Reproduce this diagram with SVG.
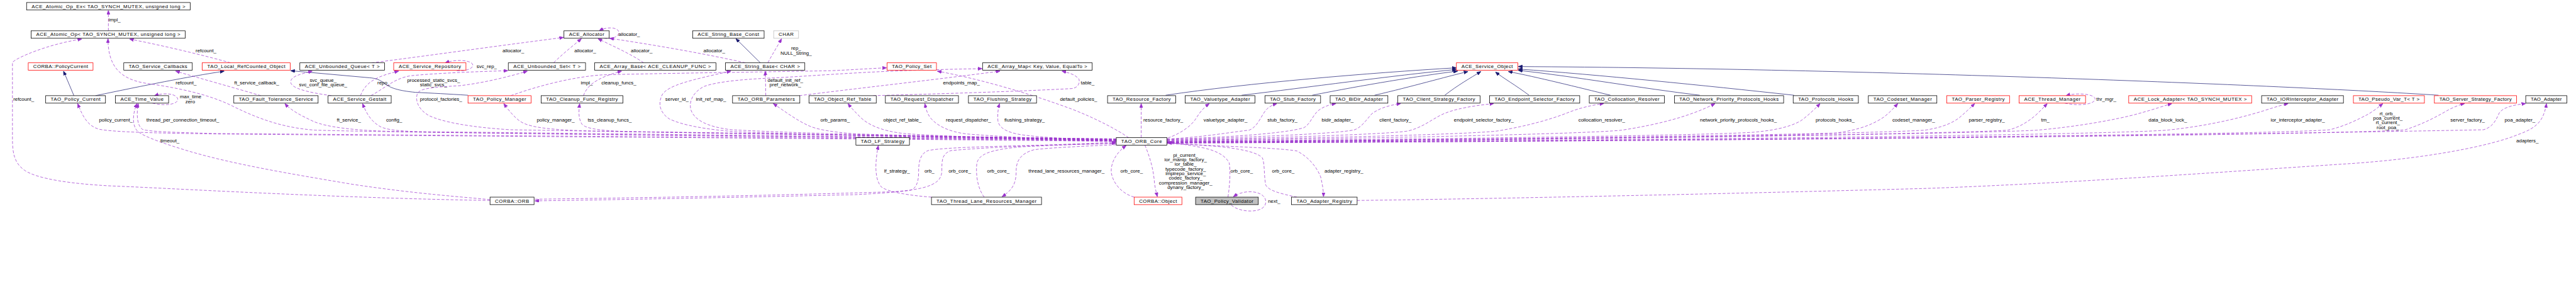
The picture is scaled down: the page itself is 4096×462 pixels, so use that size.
<svg xmlns="http://www.w3.org/2000/svg" width="4096" height="462" viewBox="0 0 4096 462">
<style>
.nb{fill:#fff;stroke:#000;stroke-width:1.2}
.nr{fill:#fff;stroke:#ff0000;stroke-width:1.2}
.ng{fill:#fff;stroke:#bfbfbf;stroke-width:1.2}
.nf{fill:#bfbfbf;stroke:#000;stroke-width:1.2}
.t{font-family:"Liberation Sans",Arial,sans-serif;font-size:12px;fill:#000;text-anchor:middle}
.e{fill:none;stroke:#9a32cd;stroke-width:1.1;stroke-dasharray:7,4;marker-end:url(#ap)}
.i{fill:none;stroke:#191970;stroke-width:1.1;marker-end:url(#an)}
</style>
<defs>
<marker id="ap" viewBox="0 0 10 8" refX="10" refY="4" markerWidth="10" markerHeight="8" orient="auto" markerUnits="userSpaceOnUse"><path d="M0,0 L10,4 L0,8 z" fill="#9a32cd" stroke="#9a32cd"/></marker>
<marker id="an" viewBox="0 0 10 8" refX="10" refY="4" markerWidth="10" markerHeight="8" orient="auto" markerUnits="userSpaceOnUse"><path d="M0,0 L10,4 L0,8 z" fill="#191970" stroke="#191970"/></marker>
</defs>
<rect width="4096" height="462" fill="#fff"/>
<g transform="scale(0.66032)">
<g id="connectors">
<!-- inheritance -->
<path class="i" d="M178,230 L153,171"/>
<path class="i" d="M230,230 C350,205 450,185 540,171"/>
<path class="i" d="M1127,229 C1080,226 1040,224 1000,222 C960,218 940,212 925,200 C915,192 905,188 890,187 L700,170"/>
<path class="i" d="M1831,151 L1772,93"/>
<path class="i" d="M2807,229 C3000,200 3300,175 3507,163"/>
<path class="i" d="M2990,229 C3150,210 3350,182 3507,167"/>
<path class="i" d="M3160,229 C3280,205 3420,182 3510,171"/>
<path class="i" d="M3310,229 C3400,208 3480,185 3535,172"/>
<path class="i" d="M3479,229 C3510,205 3540,188 3566,172"/>
<path class="i" d="M3682,229 C3650,205 3620,188 3601,173"/>
<path class="i" d="M3878,229 C3800,210 3700,185 3632,172"/>
<path class="i" d="M4093,229 C3950,212 3800,185 3656,169"/>
<path class="i" d="M4320,229 C4100,205 3850,180 3656,166"/>
<path class="i" d="M5872,229 C5500,205 4500,165 3656,160"/>
<!-- dashed usage, top area -->
<path class="e" d="M261,74 L261,25"/>
<path class="e" d="M555,151 C480,130 380,107 312,94"/>
<path class="e" d="M628,230 C560,210 480,188 423,171"/>
<path class="e" d="M367,248 C400,256 430,250 428,238 C425,225 395,222 372,230"/>
<path class="e" d="M798,230 C740,222 700,212 700,197 C700,182 730,177 752,171"/>
<path class="e" d="M868,230 C880,200 900,185 960,171"/>
<path class="e" d="M893,230 C930,210 950,188 990,182 C1050,176 1150,172 1223,170"/>
<path class="e" d="M895,151 C1000,138 1200,110 1357,90"/>
<path class="e" d="M1333,151 C1360,125 1380,110 1400,93"/>
<path class="e" d="M1550,151 C1520,130 1470,108 1440,93"/>
<path class="e" d="M1795,151 C1700,130 1600,112 1468,92"/>
<path class="e" d="M1455,92 C1480,95 1492,85 1490,76 C1486,65 1460,64 1443,74"/>
<path class="e" d="M1100,170 C1130,172 1145,160 1136,152 C1126,144 1095,143 1072,151"/>
<path class="e" d="M1230,230 C1300,205 1380,185 1450,180 C1600,176 1900,172 2000,170 C2050,168 2090,165 2135,163"/>
<path class="e" d="M1405,230 C1412,210 1430,188 1497,171"/>
<path class="e" d="M1844,230 L1843,171"/>
<path class="e" d="M1849,151 C1860,130 1870,115 1882,93"/>
<path class="e" d="M2103,230 C2250,226 2450,220 2580,213 C2600,211 2600,195 2598,190 C2590,180 2575,175 2557,171"/>
<path class="e" d="M1925,230 C2050,214 2250,192 2408,171"/>
<path class="e" d="M2718,331 C2690,312 2640,285 2580,262 C2480,225 2360,190 2257,171"/>
<path class="e" d="M4972,248 C5010,256 5045,250 5045,238 C5045,226 5000,222 4975,230"/>
<!-- ORB_Core to the left -->
<path class="e" d="M2688,340 C2200,334 900,326 520,322 C380,320 280,318 240,311 C212,304 200,282 187,249"/>
<path class="e" d="M2688,339 C2200,333 900,324 513,321 C420,318 360,317 343,311 C330,302 328,275 333,249"/>
<path class="e" d="M2688,338 C2200,332 1000,320 760,313 C690,308 630,290 560,255 C500,225 420,210 350,200 C290,190 260,160 260,93"/>
<path class="e" d="M2688,337 C2200,331 1100,320 950,316 C850,314 785,305 755,292 C725,278 700,265 686,249"/>
<path class="e" d="M2688,336 C2200,330 1200,318 1035,317 C960,316 930,312 915,304 C898,294 885,280 873,249"/>
<path class="e" d="M2688,335 C2200,328 1450,316 1230,312 C1130,306 1065,293 1033,278 C1005,262 1000,240 1005,225 C1012,212 1040,210 1107,206 C1160,200 1220,186 1270,171"/>
<path class="e" d="M2688,334 C2200,328 1600,318 1430,315 C1300,312 1268,303 1250,290 C1235,278 1225,265 1213,249"/>
<path class="e" d="M2688,334 C2200,328 1700,318 1550,317 C1450,316 1410,310 1401,298 C1393,285 1393,270 1396,249"/>
<path class="e" d="M2688,337 C2300,331 2000,325 1778,317 C1700,312 1640,300 1612,286 C1590,272 1583,250 1595,227 C1610,205 1660,193 1760,171"/>
<path class="e" d="M2688,336 C2300,330 1950,322 1762,312 C1700,305 1672,287 1664,265 C1658,245 1668,222 1695,208 C1730,195 1800,190 1870,187 C1960,182 2050,175 2150,171 C2250,167 2320,166 2365,165"/>
<path class="e" d="M2688,335 C2400,330 2150,325 2065,322 C2000,318 1962,310 1945,301 C1920,290 1890,268 1862,249"/>
<path class="e" d="M2688,340 C2500,336 2250,327 2177,321 C2120,315 2088,298 2072,282 C2060,270 2050,260 2042,249"/>
<path class="e" d="M2688,339 C2550,336 2400,328 2327,322 C2280,316 2255,300 2242,285 C2232,273 2230,262 2227,249"/>
<path class="e" d="M2688,338 C2600,336 2500,330 2460,324 C2420,318 2405,305 2403,290 C2402,275 2403,262 2407,249"/>
<path class="e" d="M2748,331 L2748,249"/>
<path class="e" d="M2812,332 C2850,318 2870,300 2880,285 C2890,268 2900,258 2912,249"/>
<!-- ORB_Core to the right -->
<path class="e" d="M2810,334 C2900,330 2960,318 3008,313 C3028,305 3035,282 3048,265 C3056,256 3065,252 3075,249"/>
<path class="e" d="M2810,335 C2950,330 3090,322 3140,307 C3155,298 3160,280 3173,267 C3185,257 3200,252 3217,249"/>
<path class="e" d="M2810,336 C3000,330 3220,322 3262,312 C3280,305 3290,288 3303,274 C3318,262 3340,254 3373,249"/>
<path class="e" d="M2810,337 C3100,331 3350,322 3390,315 C3420,308 3440,293 3460,282 C3485,266 3530,256 3597,249"/>
<path class="e" d="M2810,338 C3200,332 3550,322 3605,315 C3680,303 3740,285 3775,271 C3800,261 3830,253 3862,249"/>
<path class="e" d="M2810,339 C3300,333 3820,322 3905,313 C3990,300 4070,280 4130,249"/>
<path class="e" d="M2810,340 C3400,335 4100,326 4222,318 C4290,312 4320,300 4337,290 C4355,277 4370,262 4383,249"/>
<path class="e" d="M2810,341 C3500,336 4300,328 4420,320 C4480,312 4512,298 4537,281 C4550,271 4560,260 4570,249"/>
<path class="e" d="M2810,341 C3600,336 4500,322 4635,313 C4680,306 4702,295 4718,283 C4732,271 4745,259 4755,249"/>
<path class="e" d="M2810,342 C3700,337 4700,322 4835,313 C4862,306 4882,294 4902,277 C4913,267 4922,257 4930,249"/>
<path class="e" d="M2810,342 C3800,337 4800,320 4905,313 C5000,305 5100,287 5150,273 C5190,262 5212,254 5230,249"/>
<path class="e" d="M2810,343 C3900,338 5050,325 5217,313 C5330,302 5420,276 5452,266 C5480,257 5497,252 5510,249"/>
<path class="e" d="M2810,343 C4000,338 5450,325 5610,312 C5650,302 5680,286 5698,277 C5715,268 5728,257 5738,249"/>
<path class="e" d="M2810,344 C4100,339 5650,325 5792,312 C5840,296 5870,279 5898,263 C5913,256 5924,251 5935,249"/>
<path class="e" d="M2810,344 C4200,340 5600,320 5980,312 C6002,306 6010,290 6018,272 C6026,260 6045,253 6082,249"/>
<!-- bottom area -->
<path class="e" d="M3268,482 C3600,478 4200,465 4640,453 C5000,440 5400,410 5665,393 C5850,380 6000,350 6065,323 C6110,307 6125,290 6132,249"/>
<path class="e" d="M2810,345 C2900,350 3080,355 3123,363 C3150,377 3170,400 3180,425 C3185,445 3187,460 3187,473"/>
<path class="e" d="M3123,474 C3080,465 3055,458 3048,445 C3043,420 3046,395 3040,380 C3030,368 3000,360 2942,353 C2880,348 2840,345 2811,343"/>
<path class="e" d="M2957,474 C2962,440 2963,410 2960,392 C2952,375 2930,362 2895,355 C2860,348 2835,345 2811,342"/>
<path class="e" d="M2965,493 C2985,512 3048,515 3048,485 C3048,460 3000,452 2970,473"/>
<path class="e" d="M2757,349 C2770,380 2778,410 2780,440 C2782,455 2785,465 2787,473"/>
<path class="e" d="M2731,474 C2700,465 2680,440 2676,415 C2674,390 2690,365 2712,350"/>
<path class="e" d="M2370,474 C2352,450 2350,415 2352,395 C2355,372 2380,360 2460,353 C2560,348 2640,346 2687,344"/>
<path class="e" d="M2688,348 C2600,352 2530,355 2490,360 C2460,368 2447,385 2447,410 C2447,440 2440,455 2413,473"/>
<path class="e" d="M2243,474 C2190,470 2140,462 2123,450 C2108,435 2105,400 2115,350"/>
<path class="e" d="M2688,345 C2500,350 2280,352 2235,362 C2215,370 2212,390 2212,415 C2212,440 2205,455 2190,458 C2150,463 2100,466 2060,468 C1800,474 1500,480 1288,483"/>
<path class="e" d="M1288,479 C1600,475 1900,469 2150,461 C2240,455 2268,440 2268,410 C2268,385 2268,370 2290,362 C2400,352 2600,346 2687,342"/>
<path class="e" d="M1180,482 C800,476 400,452 267,447 C170,442 90,430 60,410 C35,393 30,370 30,333 L30,150 C40,138 120,105 197,94"/>
<path class="e" d="M1180,480 C1120,474 1000,466 848,443 C700,418 560,395 450,362 C400,347 350,330 333,317 C318,305 318,275 330,249"/>
</g>
<g id="edge-labels" class="t">
<text x="276" y="52">impl_</text>
<text x="496" y="125">refcount_</text>
<text x="448" y="203">refcount_</text>
<text x="57" y="242">refcount_</text>
<text x="459" y="237">max_time</text>
<text x="458" y="248">zero</text>
<text x="279" y="293">policy_current_</text>
<text x="440" y="293">thread_per_connection_timeout_</text>
<text x="409" y="343">timeout_</text>
<text x="618" y="203">ft_service_callback_</text>
<text x="778" y="197">svc_queue_</text>
<text x="778" y="208">svc_conf_file_queue_</text>
<text x="924" y="203">repo_</text>
<text x="1044" y="197">processed_static_svcs_</text>
<text x="1044" y="208">static_svcs_</text>
<text x="1062" y="242">protocol_factories_</text>
<text x="840" y="293">ft_service_</text>
<text x="949" y="293">config_</text>
<text x="1236" y="125">allocator_</text>
<text x="1409" y="125">allocator_</text>
<text x="1545" y="125">allocator_</text>
<text x="1720" y="125">allocator_</text>
<text x="1515" y="86">allocator_</text>
<text x="1172" y="164">svc_rep_</text>
<text x="1413" y="203">impl_</text>
<text x="1490" y="203">cleanup_funcs_</text>
<text x="1338" y="293">policy_manager_</text>
<text x="1468" y="293">tss_cleanup_funcs_</text>
<text x="1917" y="120">rep_</text>
<text x="1917" y="131">NULL_String_</text>
<text x="1891" y="197">default_init_ref_</text>
<text x="1891" y="208">pref_network_</text>
<text x="1630" y="242">server_id_</text>
<text x="1712" y="242">init_ref_map_</text>
<text x="2011" y="293">orb_params_</text>
<text x="2315" y="203">endpoints_map_</text>
<text x="2619" y="203">table_</text>
<text x="2597" y="242">default_policies_</text>
<text x="2173" y="293">object_ref_table_</text>
<text x="2332" y="293">request_dispatcher_</text>
<text x="2467" y="293">flushing_strategy_</text>
<text x="2801" y="293">resource_factory_</text>
<text x="2951" y="293">valuetype_adapter_</text>
<text x="3088" y="293">stub_factory_</text>
<text x="3221" y="293">bidir_adapter_</text>
<text x="3360" y="293">client_factory_</text>
<text x="3573" y="293">endpoint_selector_factory_</text>
<text x="3857" y="293">collocation_resolver_</text>
<text x="4186" y="293">network_priority_protocols_hooks_</text>
<text x="4419" y="293">protocols_hooks_</text>
<text x="4608" y="293">codeset_manager_</text>
<text x="4784" y="293">parser_registry_</text>
<text x="4925" y="293">tm_</text>
<text x="5072" y="242">thr_mgr_</text>
<text x="5220" y="293">data_block_lock_</text>
<text x="5533" y="293">ior_interceptor_adapter_</text>
<text x="5749" y="277">rt_orb_</text>
<text x="5750" y="288">poa_current_</text>
<text x="5750" y="299">rt_current_</text>
<text x="5750" y="310">root_poa_</text>
<text x="5942" y="293">server_factory_</text>
<text x="6068" y="293">poa_adapter_</text>
<text x="6086" y="343">adapters_</text>
<text x="2160" y="415">lf_strategy_</text>
<text x="2238" y="415">orb_</text>
<text x="2311" y="415">orb_core_</text>
<text x="2404" y="415">orb_core_</text>
<text x="2568" y="415">thread_lane_resources_manager_</text>
<text x="2725" y="415">orb_core_</text>
<text x="2855" y="377">pi_current_</text>
<text x="2855" y="388">ior_manip_factory_</text>
<text x="2855" y="399">ior_table_</text>
<text x="2855" y="410">typecode_factory_</text>
<text x="2855" y="421">implrepo_service_</text>
<text x="2855" y="431">codec_factory_</text>
<text x="2855" y="443">compression_manager_</text>
<text x="2855" y="454">dynany_factory_</text>
<text x="2990" y="415">orb_core_</text>
<text x="3090" y="415">orb_core_</text>
<text x="3236" y="415">adapter_registry_</text>
<text x="3068" y="487">next_</text>
</g>
<g id="n_atomic_op_ex"><rect class="nb" x="64" y="6" width="394" height="18"/><text class="t" x="261" y="19" textLength="370">ACE_Atomic_Op_Ex&lt; TAO_SYNCH_MUTEX, unsigned long &gt;</text></g>
<g id="n_atomic_op"><rect class="nb" x="75" y="74" width="371" height="18"/><text class="t" x="260.5" y="87" textLength="347">ACE_Atomic_Op&lt; TAO_SYNCH_MUTEX, unsigned long &gt;</text></g>
<g id="n_allocator"><rect class="nb" x="1358" y="74" width="109" height="18"/><text class="t" x="1412.5" y="87" textLength="85">ACE_Allocator</text></g>
<g id="n_string_base_const"><rect class="nb" x="1668" y="74" width="172" height="18"/><text class="t" x="1754" y="87" textLength="148">ACE_String_Base_Const</text></g>
<g id="n_char"><rect class="ng" x="1863" y="74" width="60" height="18"/><text class="t" x="1893" y="87" textLength="36">CHAR</text></g>
<g id="n_policycurrent"><rect class="nr" x="68" y="151" width="156" height="18"/><text class="t" x="146" y="164" textLength="132">CORBA::PolicyCurrent</text></g>
<g id="n_service_callbacks"><rect class="nb" x="298" y="151" width="165" height="18"/><text class="t" x="380.5" y="164" textLength="141">TAO_Service_Callbacks</text></g>
<g id="n_local_refcounted"><rect class="nr" x="487" y="151" width="212" height="18"/><text class="t" x="593" y="164" textLength="188">TAO_Local_RefCounted_Object</text></g>
<g id="n_unbounded_queue"><rect class="nb" x="722" y="151" width="204" height="18"/><text class="t" x="824" y="164" textLength="180">ACE_Unbounded_Queue&lt; T &gt;</text></g>
<g id="n_service_repository"><rect class="nr" x="948" y="151" width="174" height="18"/><text class="t" x="1035" y="164" textLength="150">ACE_Service_Repository</text></g>
<g id="n_unbounded_set"><rect class="nb" x="1224" y="151" width="186" height="18"/><text class="t" x="1317" y="164" textLength="162">ACE_Unbounded_Set&lt; T &gt;</text></g>
<g id="n_array_base"><rect class="nb" x="1432" y="151" width="292" height="18"/><text class="t" x="1578" y="164" textLength="268">ACE_Array_Base&lt; ACE_CLEANUP_FUNC &gt;</text></g>
<g id="n_string_base"><rect class="nb" x="1747" y="151" width="191" height="18"/><text class="t" x="1842.5" y="164" textLength="167">ACE_String_Base&lt; CHAR &gt;</text></g>
<g id="n_policy_set"><rect class="nr" x="2136" y="151" width="119" height="18"/><text class="t" x="2195.5" y="164" textLength="95">TAO_Policy_Set</text></g>
<g id="n_array_map"><rect class="nb" x="2366" y="151" width="264" height="18"/><text class="t" x="2498" y="164" textLength="240">ACE_Array_Map&lt; Key, Value, EqualTo &gt;</text></g>
<g id="n_service_object"><rect class="nr" x="3507" y="151" width="148" height="18"/><text class="t" x="3581" y="164" textLength="124">ACE_Service_Object</text></g>
<g id="n_policy_current"><rect class="nb" x="110" y="230" width="144" height="18"/><text class="t" x="182" y="243" textLength="120">TAO_Policy_Current</text></g>
<g id="n_time_value"><rect class="nb" x="278" y="230" width="128" height="18"/><text class="t" x="342" y="243" textLength="104">ACE_Time_Value</text></g>
<g id="n_ft_service"><rect class="nb" x="563" y="230" width="203" height="18"/><text class="t" x="664.5" y="243" textLength="179">TAO_Fault_Tolerance_Service</text></g>
<g id="n_gestalt"><rect class="nb" x="790" y="230" width="152" height="18"/><text class="t" x="866" y="243" textLength="128">ACE_Service_Gestalt</text></g>
<g id="n_policy_manager"><rect class="nr" x="1127" y="230" width="152" height="18"/><text class="t" x="1203" y="243" textLength="128">TAO_Policy_Manager</text></g>
<g id="n_cleanup"><rect class="nb" x="1303" y="230" width="197" height="18"/><text class="t" x="1401.5" y="243" textLength="173">TAO_Cleanup_Func_Registry</text></g>
<g id="n_orb_params"><rect class="nb" x="1764" y="230" width="162" height="18"/><text class="t" x="1845" y="243" textLength="138">TAO_ORB_Parameters</text></g>
<g id="n_object_ref_table"><rect class="nb" x="1948" y="230" width="162" height="18"/><text class="t" x="2029" y="243" textLength="138">TAO_Object_Ref_Table</text></g>
<g id="n_request_dispatcher"><rect class="nb" x="2132" y="230" width="176" height="18"/><text class="t" x="2220" y="243" textLength="152">TAO_Request_Dispatcher</text></g>
<g id="n_flushing"><rect class="nb" x="2332" y="230" width="164" height="18"/><text class="t" x="2414" y="243" textLength="140">TAO_Flushing_Strategy</text></g>
<g id="n_resource_factory"><rect class="nb" x="2667" y="230" width="164" height="18"/><text class="t" x="2749" y="243" textLength="140">TAO_Resource_Factory</text></g>
<g id="n_valuetype"><rect class="nb" x="2854" y="230" width="168" height="18"/><text class="t" x="2938" y="243" textLength="144">TAO_Valuetype_Adapter</text></g>
<g id="n_stub_factory"><rect class="nb" x="3046" y="230" width="134" height="18"/><text class="t" x="3113" y="243" textLength="110">TAO_Stub_Factory</text></g>
<g id="n_bidir"><rect class="nb" x="3203" y="230" width="139" height="18"/><text class="t" x="3272.5" y="243" textLength="115">TAO_BiDir_Adapter</text></g>
<g id="n_client_strategy"><rect class="nb" x="3366" y="230" width="198" height="18"/><text class="t" x="3465" y="243" textLength="174">TAO_Client_Strategy_Factory</text></g>
<g id="n_endpoint_selector"><rect class="nb" x="3587" y="230" width="217" height="18"/><text class="t" x="3695.5" y="243" textLength="193">TAO_Endpoint_Selector_Factory</text></g>
<g id="n_collocation"><rect class="nb" x="3827" y="230" width="181" height="18"/><text class="t" x="3917.5" y="243" textLength="157">TAO_Collocation_Resolver</text></g>
<g id="n_net_prio"><rect class="nb" x="4032" y="230" width="263" height="18"/><text class="t" x="4163.5" y="243" textLength="239">TAO_Network_Priority_Protocols_Hooks</text></g>
<g id="n_protocols_hooks"><rect class="nb" x="4318" y="230" width="157" height="18"/><text class="t" x="4396.5" y="243" textLength="133">TAO_Protocols_Hooks</text></g>
<g id="n_codeset"><rect class="nb" x="4499" y="230" width="165" height="18"/><text class="t" x="4581.5" y="243" textLength="141">TAO_Codeset_Manager</text></g>
<g id="n_parser"><rect class="nr" x="4688" y="230" width="151" height="18"/><text class="t" x="4763.5" y="243" textLength="127">TAO_Parser_Registry</text></g>
<g id="n_thread_manager"><rect class="nr" x="4862" y="230" width="160" height="18"/><text class="t" x="4942" y="243" textLength="136">ACE_Thread_Manager</text></g>
<g id="n_lock_adapter"><rect class="nr" x="5126" y="230" width="296" height="18"/><text class="t" x="5274" y="243" textLength="272">ACE_Lock_Adapter&lt; TAO_SYNCH_MUTEX &gt;</text></g>
<g id="n_ior"><rect class="nb" x="5446" y="230" width="197" height="18"/><text class="t" x="5544.5" y="243" textLength="173">TAO_IORInterceptor_Adapter</text></g>
<g id="n_pseudo_var"><rect class="nr" x="5667" y="230" width="171" height="18"/><text class="t" x="5752.5" y="243" textLength="147">TAO_Pseudo_Var_T&lt; T &gt;</text></g>
<g id="n_server_strategy"><rect class="nr" x="5862" y="230" width="198" height="18"/><text class="t" x="5961" y="243" textLength="174">TAO_Server_Strategy_Factory</text></g>
<g id="n_adapter"><rect class="nb" x="6082" y="230" width="99" height="18"/><text class="t" x="6131.5" y="243" textLength="75">TAO_Adapter</text></g>
<g id="n_lf_strategy"><rect class="nb" x="2061" y="331" width="129" height="18"/><text class="t" x="2125.5" y="344" textLength="105">TAO_LF_Strategy</text></g>
<g id="n_orb_core"><rect class="nb" x="2688" y="331" width="122" height="18"/><text class="t" x="2749" y="344" textLength="98">TAO_ORB_Core</text></g>
<g id="n_corba_orb"><rect class="nb" x="1180" y="474" width="106" height="18"/><text class="t" x="1233" y="487" textLength="82">CORBA::ORB</text></g>
<g id="n_tlrm"><rect class="nb" x="2243" y="474" width="265" height="18"/><text class="t" x="2375.5" y="487" textLength="241">TAO_Thread_Lane_Resources_Manager</text></g>
<g id="n_corba_object"><rect class="nr" x="2731" y="474" width="115" height="18"/><text class="t" x="2788.5" y="487" textLength="91">CORBA::Object</text></g>
<g id="n_policy_validator"><rect class="nf" x="2879" y="474" width="151" height="18"/><text class="t" x="2954.5" y="487" textLength="127">TAO_Policy_Validator</text></g>
<g id="n_adapter_registry"><rect class="nb" x="3110" y="474" width="158" height="18"/><text class="t" x="3189" y="487" textLength="134">TAO_Adapter_Registry</text></g>
</g>
</svg>
